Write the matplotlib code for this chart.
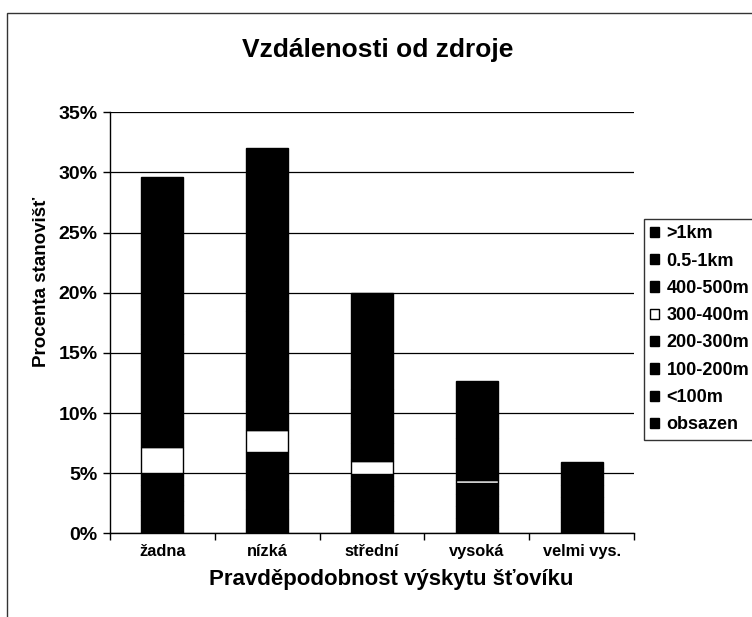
import matplotlib
matplotlib.use("Agg")
import matplotlib.pyplot as plt
import matplotlib.patches as patches
from matplotlib.ticker import PercentFormatter, FixedLocator
import numpy as np

plt.rcParams['font.family'] = ['Liberation Sans', 'DejaVu Sans']

# categories (probability of sorrel occurrence)
categories = ["žadna", "nízká", "střední", "vysoká", "velmi vys."]

# stacked series, bottom to top, values in percent of sites
series_names = ["obsazen", "<100m", "100-200m", "200-300m",
                "300-400m", "400-500m", "0.5-1km", ">1km"]
obsazen = [1.5, 2.0, 1.5, 1.3, 1.8]
m_100 = [1.2, 1.6, 1.2, 1.0, 1.2]
m_100_200 = [1.3, 1.7, 1.2, 1.0, 1.0]
m_200_300 = [1.0, 1.5, 1.0, 0.9, 0.7]
m_300_400 = [2.2, 1.8, 1.1, 0.25, 0.0]
m_400_500 = [2.4, 2.4, 1.5, 0.85, 0.3]
km_05_1 = [7.0, 7.5, 4.5, 2.6, 0.4]
km_1 = [13.0, 13.5, 8.0, 4.8, 0.5]

series_values = [obsazen, m_100, m_100_200, m_200_300,
                 m_300_400, m_400_500, km_05_1, km_1]
series_colors = ["black", "black", "black", "black",
                 "white", "black", "black", "black"]

y_ticks = [0, 5, 10, 15, 20, 25, 30, 35]

W, H = 752, 617
fig = plt.figure(figsize=(W / 100, H / 100), dpi=100)
ax = fig.add_axes([110 / W, 1 - 533.3 / H, 524 / W, (533.3 - 112.3) / H])

x = np.arange(len(categories))
bottom = np.zeros(len(categories))
handles = []
for name, vals, col in zip(series_names, series_values, series_colors):
    vals = np.array(vals)
    b = ax.bar(x, vals, width=0.4, bottom=bottom, color=col,
               edgecolor="black", linewidth=1.0, label=name, zorder=3)
    handles.append(b)
    bottom += vals

ax.set_xlim(-0.5, len(categories) - 0.5)
ax.set_ylim(0, 35)
ax.yaxis.set_major_locator(FixedLocator(y_ticks))
ax.yaxis.set_major_formatter(PercentFormatter(decimals=0))
ax.grid(axis="y", color="black", linewidth=0.9, zorder=0)

ax.set_xticks(x)
ax.set_xticklabels(categories)
ax.set_xticks(np.arange(-0.5, len(categories)), minor=True)
ax.tick_params(axis="x", which="major", length=0, pad=8, labelsize=11.8)
ax.tick_params(axis="x", which="minor", length=5, width=1, direction="out")
ax.tick_params(axis="y", length=5, width=1, direction="out", pad=4, labelsize=14)
for lab in ax.get_xticklabels() + ax.get_yticklabels():
    lab.set_fontweight("bold")

for side in ["top", "right"]:
    ax.spines[side].set_visible(False)
for side in ["left", "bottom"]:
    ax.spines[side].set_linewidth(1.0)

fig.text(378 / W, 1 - 50 / H, "Vzdálenosti od zdroje", ha="center", va="center",
         fontsize=19, fontweight="bold")
fig.text(391 / W, 1 - 580 / H, "Pravděpodobnost výskytu šťovíku", ha="center",
         va="center", fontsize=16, fontweight="bold")
fig.text(42 / W, 1 - 282 / H, "Procenta stanovišť", ha="center", va="center",
         rotation=90, fontsize=13.5, fontweight="bold")

leg = fig.legend(handles[::-1], series_names[::-1], loc="upper left",
                 bbox_to_anchor=(644 / W, 1 - 219 / H), borderaxespad=0,
                 frameon=True, fancybox=False, edgecolor="black",
                 handlelength=0.5, handleheight=0.5, handletextpad=0.4,
                 labelspacing=0.57, borderpad=0.35,
                 prop={"size": 13, "weight": "bold"})
leg.get_frame().set_linewidth(1.0)

# outer chart area border (cut by the image edge)
fig.add_artist(patches.Rectangle((7 / W, -0.1), 2, 1 - 13 / H + 0.1,
                                 transform=fig.transFigure, fill=False,
                                 edgecolor="#333333", linewidth=1.0))

fig.savefig("out.png", dpi=100)
